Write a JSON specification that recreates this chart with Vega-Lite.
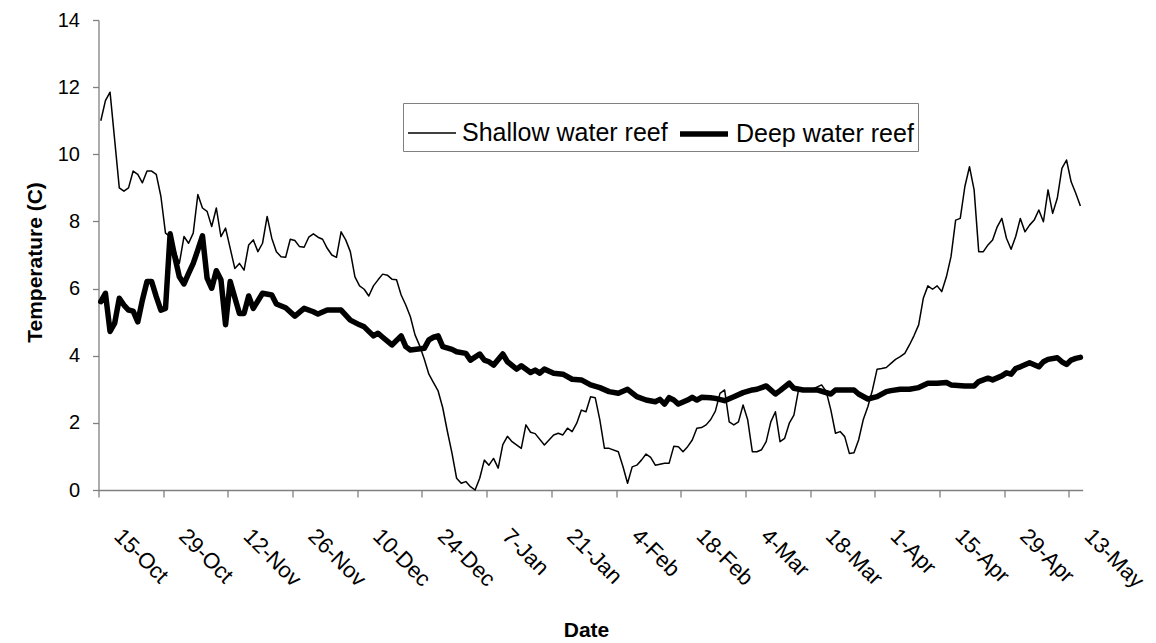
{
  "$schema": "https://vega.github.io/schema/vega-lite/v6.json",
  "width": 984.2,
  "height": 470,
  "autosize": {"type": "none"},
  "padding": {"left": 98.5, "top": 20, "right": 73.3, "bottom": 153},
  "background": "white",
  "config": {
    "view": {"stroke": null},
    "font": "Liberation Sans",
    "axis": {
      "domainColor": "#808080",
      "tickColor": "#808080",
      "domainWidth": 1.3,
      "tickWidth": 1.3,
      "grid": false,
      "labelColor": "black",
      "labelFont": "Liberation Sans",
      "labelFontSize": 20,
      "titleColor": "black",
      "titleFont": "Liberation Sans",
      "titleFontSize": 21,
      "titleFontWeight": "bold"
    }
  },
  "datasets": {
    "shallow": [
      {"d": "2004-10-15", "t": 11.0}, {"d": "2004-10-16", "t": 11.6}, {"d": "2004-10-17", "t": 11.85},
      {"d": "2004-10-19", "t": 9.0}, {"d": "2004-10-20", "t": 8.9}, {"d": "2004-10-21", "t": 9.0},
      {"d": "2004-10-22", "t": 9.5}, {"d": "2004-10-23", "t": 9.4}, {"d": "2004-10-24", "t": 9.15},
      {"d": "2004-10-25", "t": 9.5}, {"d": "2004-10-26", "t": 9.5}, {"d": "2004-10-27", "t": 9.4},
      {"d": "2004-10-28", "t": 8.75}, {"d": "2004-10-29", "t": 7.65}, {"d": "2004-10-30", "t": 7.55},
      {"d": "2004-11-01", "t": 6.75}, {"d": "2004-11-02", "t": 7.55}, {"d": "2004-11-03", "t": 7.35},
      {"d": "2004-11-04", "t": 7.65}, {"d": "2004-11-05", "t": 8.8}, {"d": "2004-11-06", "t": 8.4},
      {"d": "2004-11-07", "t": 8.3}, {"d": "2004-11-08", "t": 7.85}, {"d": "2004-11-09", "t": 8.4},
      {"d": "2004-11-10", "t": 7.55}, {"d": "2004-11-11", "t": 7.8}, {"d": "2004-11-13", "t": 6.6},
      {"d": "2004-11-14", "t": 6.75}, {"d": "2004-11-15", "t": 6.55}, {"d": "2004-11-16", "t": 7.3},
      {"d": "2004-11-17", "t": 7.45}, {"d": "2004-11-18", "t": 7.1}, {"d": "2004-11-19", "t": 7.35},
      {"d": "2004-11-20", "t": 8.15}, {"d": "2004-11-21", "t": 7.5}, {"d": "2004-11-22", "t": 7.1},
      {"d": "2004-11-23", "t": 6.95}, {"d": "2004-11-24", "t": 6.93}, {"d": "2004-11-25", "t": 7.47},
      {"d": "2004-11-26", "t": 7.43}, {"d": "2004-11-27", "t": 7.25}, {"d": "2004-11-28", "t": 7.23},
      {"d": "2004-11-29", "t": 7.53}, {"d": "2004-11-30", "t": 7.63}, {"d": "2004-12-01", "t": 7.53},
      {"d": "2004-12-02", "t": 7.47}, {"d": "2004-12-03", "t": 7.2}, {"d": "2004-12-04", "t": 7.0},
      {"d": "2004-12-05", "t": 6.93}, {"d": "2004-12-06", "t": 7.69}, {"d": "2004-12-07", "t": 7.45},
      {"d": "2004-12-08", "t": 7.1}, {"d": "2004-12-09", "t": 6.35}, {"d": "2004-12-10", "t": 6.08},
      {"d": "2004-12-11", "t": 5.98}, {"d": "2004-12-12", "t": 5.78}, {"d": "2004-12-13", "t": 6.08},
      {"d": "2004-12-14", "t": 6.26}, {"d": "2004-12-15", "t": 6.43}, {"d": "2004-12-16", "t": 6.4},
      {"d": "2004-12-17", "t": 6.28}, {"d": "2004-12-18", "t": 6.26}, {"d": "2004-12-19", "t": 5.81},
      {"d": "2004-12-20", "t": 5.51}, {"d": "2004-12-21", "t": 5.16}, {"d": "2004-12-22", "t": 4.62},
      {"d": "2004-12-23", "t": 4.3}, {"d": "2004-12-24", "t": 3.9}, {"d": "2004-12-25", "t": 3.45},
      {"d": "2004-12-26", "t": 3.2}, {"d": "2004-12-27", "t": 2.95}, {"d": "2004-12-28", "t": 2.45},
      {"d": "2004-12-29", "t": 1.75}, {"d": "2004-12-30", "t": 1.1}, {"d": "2004-12-31", "t": 0.35},
      {"d": "2005-01-01", "t": 0.2}, {"d": "2005-01-02", "t": 0.25}, {"d": "2005-01-03", "t": 0.1},
      {"d": "2005-01-04", "t": 0.0}, {"d": "2005-01-05", "t": 0.35}, {"d": "2005-01-06", "t": 0.89},
      {"d": "2005-01-07", "t": 0.74}, {"d": "2005-01-08", "t": 0.94}, {"d": "2005-01-09", "t": 0.65},
      {"d": "2005-01-10", "t": 1.35}, {"d": "2005-01-11", "t": 1.6}, {"d": "2005-01-12", "t": 1.44},
      {"d": "2005-01-14", "t": 1.24}, {"d": "2005-01-15", "t": 1.94}, {"d": "2005-01-16", "t": 1.72},
      {"d": "2005-01-17", "t": 1.68}, {"d": "2005-01-19", "t": 1.34}, {"d": "2005-01-20", "t": 1.49},
      {"d": "2005-01-21", "t": 1.64}, {"d": "2005-01-22", "t": 1.69}, {"d": "2005-01-23", "t": 1.64},
      {"d": "2005-01-24", "t": 1.84}, {"d": "2005-01-25", "t": 1.74}, {"d": "2005-01-26", "t": 1.99},
      {"d": "2005-01-27", "t": 2.38}, {"d": "2005-01-28", "t": 2.33}, {"d": "2005-01-29", "t": 2.78},
      {"d": "2005-01-30", "t": 2.75}, {"d": "2005-01-31", "t": 2.09}, {"d": "2005-02-01", "t": 1.24},
      {"d": "2005-02-02", "t": 1.24}, {"d": "2005-02-04", "t": 1.14}, {"d": "2005-02-05", "t": 0.7},
      {"d": "2005-02-06", "t": 0.2}, {"d": "2005-02-07", "t": 0.69}, {"d": "2005-02-08", "t": 0.74},
      {"d": "2005-02-09", "t": 0.89}, {"d": "2005-02-10", "t": 1.07}, {"d": "2005-02-11", "t": 0.97},
      {"d": "2005-02-12", "t": 0.74}, {"d": "2005-02-14", "t": 0.8}, {"d": "2005-02-15", "t": 0.8},
      {"d": "2005-02-16", "t": 1.3}, {"d": "2005-02-17", "t": 1.29}, {"d": "2005-02-18", "t": 1.14},
      {"d": "2005-02-19", "t": 1.29}, {"d": "2005-02-20", "t": 1.49}, {"d": "2005-02-21", "t": 1.84},
      {"d": "2005-02-22", "t": 1.86}, {"d": "2005-02-23", "t": 1.94}, {"d": "2005-02-24", "t": 2.1},
      {"d": "2005-02-25", "t": 2.35}, {"d": "2005-02-26", "t": 2.88}, {"d": "2005-02-27", "t": 2.98},
      {"d": "2005-02-28", "t": 2.03}, {"d": "2005-03-01", "t": 1.94}, {"d": "2005-03-02", "t": 2.03},
      {"d": "2005-03-03", "t": 2.53}, {"d": "2005-03-04", "t": 2.09}, {"d": "2005-03-05", "t": 1.14},
      {"d": "2005-03-06", "t": 1.14}, {"d": "2005-03-07", "t": 1.2}, {"d": "2005-03-08", "t": 1.44},
      {"d": "2005-03-09", "t": 2.03}, {"d": "2005-03-10", "t": 2.33}, {"d": "2005-03-11", "t": 1.44},
      {"d": "2005-03-12", "t": 1.54}, {"d": "2005-03-13", "t": 1.99}, {"d": "2005-03-14", "t": 2.23},
      {"d": "2005-03-15", "t": 2.98}, {"d": "2005-03-16", "t": 3.0}, {"d": "2005-03-18", "t": 3.0},
      {"d": "2005-03-20", "t": 3.13}, {"d": "2005-03-21", "t": 2.93}, {"d": "2005-03-22", "t": 2.38},
      {"d": "2005-03-23", "t": 1.69}, {"d": "2005-03-24", "t": 1.74}, {"d": "2005-03-25", "t": 1.59},
      {"d": "2005-03-26", "t": 1.09}, {"d": "2005-03-27", "t": 1.11}, {"d": "2005-03-28", "t": 1.49},
      {"d": "2005-03-29", "t": 2.09}, {"d": "2005-03-30", "t": 2.48}, {"d": "2005-03-31", "t": 2.98},
      {"d": "2005-04-01", "t": 3.6}, {"d": "2005-04-02", "t": 3.62}, {"d": "2005-04-03", "t": 3.65},
      {"d": "2005-04-04", "t": 3.77}, {"d": "2005-04-05", "t": 3.89}, {"d": "2005-04-06", "t": 3.97},
      {"d": "2005-04-07", "t": 4.07}, {"d": "2005-04-08", "t": 4.32}, {"d": "2005-04-09", "t": 4.6},
      {"d": "2005-04-10", "t": 4.92}, {"d": "2005-04-11", "t": 5.71}, {"d": "2005-04-12", "t": 6.08},
      {"d": "2005-04-13", "t": 5.98}, {"d": "2005-04-14", "t": 6.08}, {"d": "2005-04-15", "t": 5.91},
      {"d": "2005-04-16", "t": 6.35}, {"d": "2005-04-17", "t": 6.95}, {"d": "2005-04-18", "t": 8.04},
      {"d": "2005-04-19", "t": 8.09}, {"d": "2005-04-20", "t": 9.04}, {"d": "2005-04-21", "t": 9.63},
      {"d": "2005-04-22", "t": 8.94}, {"d": "2005-04-23", "t": 7.1}, {"d": "2005-04-24", "t": 7.1},
      {"d": "2005-04-25", "t": 7.3}, {"d": "2005-04-26", "t": 7.45}, {"d": "2005-04-27", "t": 7.84},
      {"d": "2005-04-28", "t": 8.09}, {"d": "2005-04-29", "t": 7.5}, {"d": "2005-04-30", "t": 7.17},
      {"d": "2005-05-01", "t": 7.55}, {"d": "2005-05-02", "t": 8.09}, {"d": "2005-05-03", "t": 7.69},
      {"d": "2005-05-04", "t": 7.89}, {"d": "2005-05-05", "t": 8.04}, {"d": "2005-05-06", "t": 8.34},
      {"d": "2005-05-07", "t": 7.99}, {"d": "2005-05-08", "t": 8.94}, {"d": "2005-05-09", "t": 8.24},
      {"d": "2005-05-10", "t": 8.69}, {"d": "2005-05-11", "t": 9.58}, {"d": "2005-05-12", "t": 9.83},
      {"d": "2005-05-13", "t": 9.18}, {"d": "2005-05-14", "t": 8.84}, {"d": "2005-05-15", "t": 8.46}
    ],
    "deep": [
      {"d": "2004-10-15", "t": 5.61}, {"d": "2004-10-16", "t": 5.86}, {"d": "2004-10-17", "t": 4.72},
      {"d": "2004-10-18", "t": 4.97}, {"d": "2004-10-19", "t": 5.71}, {"d": "2004-10-20", "t": 5.51},
      {"d": "2004-10-21", "t": 5.36}, {"d": "2004-10-22", "t": 5.33}, {"d": "2004-10-23", "t": 5.01},
      {"d": "2004-10-24", "t": 5.66}, {"d": "2004-10-25", "t": 6.21}, {"d": "2004-10-26", "t": 6.21},
      {"d": "2004-10-27", "t": 5.76}, {"d": "2004-10-28", "t": 5.36}, {"d": "2004-10-29", "t": 5.41},
      {"d": "2004-10-30", "t": 7.63}, {"d": "2004-10-31", "t": 6.95}, {"d": "2004-11-01", "t": 6.35},
      {"d": "2004-11-02", "t": 6.14}, {"d": "2004-11-03", "t": 6.45}, {"d": "2004-11-04", "t": 6.75},
      {"d": "2004-11-05", "t": 7.15}, {"d": "2004-11-06", "t": 7.57}, {"d": "2004-11-07", "t": 6.31},
      {"d": "2004-11-08", "t": 6.01}, {"d": "2004-11-09", "t": 6.53}, {"d": "2004-11-10", "t": 6.26},
      {"d": "2004-11-11", "t": 4.92}, {"d": "2004-11-12", "t": 6.21}, {"d": "2004-11-14", "t": 5.26},
      {"d": "2004-11-15", "t": 5.26}, {"d": "2004-11-16", "t": 5.78}, {"d": "2004-11-17", "t": 5.41},
      {"d": "2004-11-19", "t": 5.86}, {"d": "2004-11-21", "t": 5.81}, {"d": "2004-11-22", "t": 5.54},
      {"d": "2004-11-24", "t": 5.43}, {"d": "2004-11-26", "t": 5.18}, {"d": "2004-11-28", "t": 5.41},
      {"d": "2004-11-30", "t": 5.31}, {"d": "2004-12-01", "t": 5.24}, {"d": "2004-12-03", "t": 5.36},
      {"d": "2004-12-06", "t": 5.36}, {"d": "2004-12-08", "t": 5.06}, {"d": "2004-12-10", "t": 4.92},
      {"d": "2004-12-11", "t": 4.86}, {"d": "2004-12-13", "t": 4.59}, {"d": "2004-12-14", "t": 4.67},
      {"d": "2004-12-15", "t": 4.55}, {"d": "2004-12-17", "t": 4.32}, {"d": "2004-12-19", "t": 4.59},
      {"d": "2004-12-20", "t": 4.27}, {"d": "2004-12-21", "t": 4.17}, {"d": "2004-12-24", "t": 4.22},
      {"d": "2004-12-25", "t": 4.47}, {"d": "2004-12-26", "t": 4.55}, {"d": "2004-12-27", "t": 4.59},
      {"d": "2004-12-28", "t": 4.27}, {"d": "2004-12-30", "t": 4.19}, {"d": "2004-12-31", "t": 4.12},
      {"d": "2005-01-02", "t": 4.07}, {"d": "2005-01-03", "t": 3.87}, {"d": "2005-01-05", "t": 4.05},
      {"d": "2005-01-06", "t": 3.87}, {"d": "2005-01-07", "t": 3.82}, {"d": "2005-01-08", "t": 3.72},
      {"d": "2005-01-10", "t": 4.05}, {"d": "2005-01-11", "t": 3.82}, {"d": "2005-01-13", "t": 3.6},
      {"d": "2005-01-14", "t": 3.7}, {"d": "2005-01-16", "t": 3.5}, {"d": "2005-01-17", "t": 3.57},
      {"d": "2005-01-18", "t": 3.48}, {"d": "2005-01-19", "t": 3.6}, {"d": "2005-01-21", "t": 3.48},
      {"d": "2005-01-23", "t": 3.45}, {"d": "2005-01-25", "t": 3.3}, {"d": "2005-01-27", "t": 3.28},
      {"d": "2005-01-29", "t": 3.13}, {"d": "2005-01-31", "t": 3.05}, {"d": "2005-02-02", "t": 2.93},
      {"d": "2005-02-04", "t": 2.88}, {"d": "2005-02-06", "t": 3.0}, {"d": "2005-02-08", "t": 2.78},
      {"d": "2005-02-10", "t": 2.68}, {"d": "2005-02-12", "t": 2.63}, {"d": "2005-02-13", "t": 2.7},
      {"d": "2005-02-14", "t": 2.56}, {"d": "2005-02-15", "t": 2.75}, {"d": "2005-02-16", "t": 2.68},
      {"d": "2005-02-17", "t": 2.56}, {"d": "2005-02-19", "t": 2.68}, {"d": "2005-02-20", "t": 2.76},
      {"d": "2005-02-21", "t": 2.68}, {"d": "2005-02-22", "t": 2.76}, {"d": "2005-02-24", "t": 2.75},
      {"d": "2005-02-25", "t": 2.73}, {"d": "2005-02-27", "t": 2.66}, {"d": "2005-03-01", "t": 2.78},
      {"d": "2005-03-03", "t": 2.9}, {"d": "2005-03-05", "t": 2.98}, {"d": "2005-03-06", "t": 3.0},
      {"d": "2005-03-08", "t": 3.1}, {"d": "2005-03-10", "t": 2.86}, {"d": "2005-03-11", "t": 2.96},
      {"d": "2005-03-13", "t": 3.18}, {"d": "2005-03-14", "t": 3.03}, {"d": "2005-03-16", "t": 2.98},
      {"d": "2005-03-19", "t": 2.98}, {"d": "2005-03-22", "t": 2.86}, {"d": "2005-03-23", "t": 2.98},
      {"d": "2005-03-27", "t": 2.98}, {"d": "2005-03-28", "t": 2.86}, {"d": "2005-03-30", "t": 2.71},
      {"d": "2005-04-01", "t": 2.78}, {"d": "2005-04-03", "t": 2.93}, {"d": "2005-04-04", "t": 2.96},
      {"d": "2005-04-06", "t": 3.0}, {"d": "2005-04-08", "t": 3.0}, {"d": "2005-04-10", "t": 3.05},
      {"d": "2005-04-12", "t": 3.18}, {"d": "2005-04-14", "t": 3.18}, {"d": "2005-04-16", "t": 3.2},
      {"d": "2005-04-17", "t": 3.13}, {"d": "2005-04-20", "t": 3.1}, {"d": "2005-04-22", "t": 3.1},
      {"d": "2005-04-23", "t": 3.23}, {"d": "2005-04-25", "t": 3.33}, {"d": "2005-04-26", "t": 3.28},
      {"d": "2005-04-28", "t": 3.4}, {"d": "2005-04-29", "t": 3.49}, {"d": "2005-04-30", "t": 3.45},
      {"d": "2005-05-01", "t": 3.62}, {"d": "2005-05-02", "t": 3.67}, {"d": "2005-05-04", "t": 3.79},
      {"d": "2005-05-06", "t": 3.67}, {"d": "2005-05-07", "t": 3.82}, {"d": "2005-05-08", "t": 3.89},
      {"d": "2005-05-10", "t": 3.94}, {"d": "2005-05-11", "t": 3.82}, {"d": "2005-05-12", "t": 3.74},
      {"d": "2005-05-13", "t": 3.87}, {"d": "2005-05-14", "t": 3.92}, {"d": "2005-05-15", "t": 3.95}
    ]
  },
  "encoding": {
    "x": {
      "field": "d",
      "type": "temporal",
      "scale": {
        "domain": [
          {"year": 2004, "month": 10, "date": 14, "hours": 12, "utc": true},
          {"year": 2005, "month": 5, "date": 15, "hours": 12, "utc": true}
        ]
      },
      "axis": {
        "title": "Date",
        "titleX": 487.5,
        "titleY": 140,
        "titleBaseline": "middle",
        "titleAlign": "center",
        "values": [
          {"year": 2004, "month": 10, "date": 14, "hours": 12, "utc": true},
          {"year": 2004, "month": 10, "date": 28, "hours": 12, "utc": true},
          {"year": 2004, "month": 11, "date": 11, "hours": 12, "utc": true},
          {"year": 2004, "month": 11, "date": 25, "hours": 12, "utc": true},
          {"year": 2004, "month": 12, "date": 9, "hours": 12, "utc": true},
          {"year": 2004, "month": 12, "date": 23, "hours": 12, "utc": true},
          {"year": 2005, "month": 1, "date": 6, "hours": 12, "utc": true},
          {"year": 2005, "month": 1, "date": 20, "hours": 12, "utc": true},
          {"year": 2005, "month": 2, "date": 3, "hours": 12, "utc": true},
          {"year": 2005, "month": 2, "date": 17, "hours": 12, "utc": true},
          {"year": 2005, "month": 3, "date": 3, "hours": 12, "utc": true},
          {"year": 2005, "month": 3, "date": 17, "hours": 12, "utc": true},
          {"year": 2005, "month": 3, "date": 31, "hours": 12, "utc": true},
          {"year": 2005, "month": 4, "date": 14, "hours": 12, "utc": true},
          {"year": 2005, "month": 4, "date": 28, "hours": 12, "utc": true},
          {"year": 2005, "month": 5, "date": 12, "hours": 12, "utc": true}
        ],
        "labelExpr": "utcFormat(datum.value + 43200000, '%-d-%b')",
        "labelAngle": 45,
        "labelAlign": "left",
        "labelBaseline": "top",
        "labelFontSize": 22,
        "labelOffset": 26,
        "labelPadding": 28,
        "labelOverlap": false,
        "labelBound": false,
        "labelFlush": false,
        "tickSize": 7
      }
    },
    "y": {
      "field": "t",
      "type": "quantitative",
      "scale": {"domain": [0, 14], "nice": false},
      "axis": {
        "title": "Temperature (C)",
        "titleX": -63.5,
        "titleY": 242,
        "titleAngle": -90,
        "titleAlign": "center",
        "titleBaseline": "middle",
        "values": [0, 2, 4, 6, 8, 10, 12, 14],
        "tickSize": 6,
        "labelPadding": 13
      }
    }
  },
  "layer": [
    {
      "data": {"name": "shallow"},
      "mark": {"type": "line", "color": "black", "strokeJoin": "round", "strokeCap": "butt"},
      "encoding": {
        "strokeWidth": {
          "datum": "Shallow water reef",
          "type": "ordinal",
          "scale": {"domain": ["Shallow water reef", "Deep water reef"], "range": [1.5, 5.5]},
          "legend": {
            "title": null,
            "orient": "none",
            "legendX": 304.5,
            "legendY": 83,
            "direction": "horizontal",
            "symbolType": "stroke",
            "symbolSize": 2304,
            "symbolStrokeColor": "black",
            "labelFont": "Liberation Sans",
            "labelFontSize": 25,
            "labelColor": "black",
            "labelLimit": 400,
            "labelOffset": 5,
            "columnPadding": 1,
            "padding": 4,
            "strokeColor": "#808080",
            "fillColor": "white"
          }
        }
      }
    },
    {
      "data": {"name": "deep"},
      "mark": {"type": "line", "color": "black", "strokeJoin": "round", "strokeCap": "round"},
      "encoding": {
        "strokeWidth": {"datum": "Deep water reef", "type": "ordinal"}
      }
    }
  ]
}
